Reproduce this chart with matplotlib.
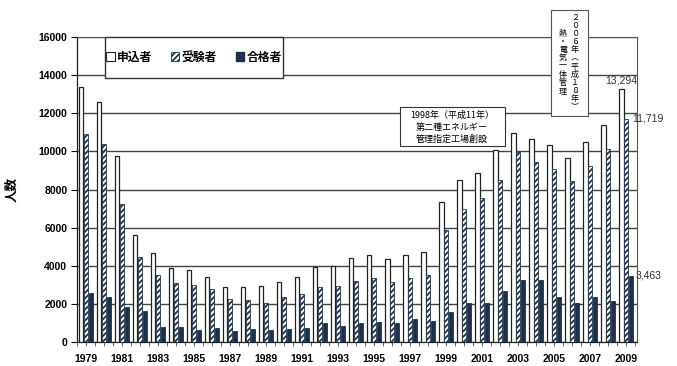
import matplotlib
matplotlib.use("Agg")
import matplotlib.pyplot as plt
from matplotlib.patches import Rectangle, Patch
import numpy as np

years = list(range(1979, 2010))
applicants = [13400, 12600, 9760, 5610, 4650, 3860, 3780, 3430, 2870, 2890,
              2940, 3150, 3430, 3920, 3970, 4420, 4550, 4350, 4550, 4740,
              7330, 8500, 8880, 10050, 10980, 10630, 10320, 9640, 10490, 11370,
              13294]
examinees = [10900, 10370, 7220, 4440, 3500, 3110, 2970, 2760, 2260, 2200,
             2030, 2340, 2520, 2900, 2940, 3200, 3340, 3150, 3340, 3520,
             5900, 6960, 7540, 8500, 9990, 9440, 9090, 8460, 9230, 10100,
             11719]
passed = [2550, 2380, 1850, 1640, 770, 800, 630, 730, 590, 700,
          630, 700, 750, 980, 840, 980, 1030, 980, 1190, 1090,
          1600, 2060, 2060, 2680, 3250, 3250, 2380, 2060, 2380, 2130,
          3463]
series_names = ["申込者", "受験者", "合格者"]
ytick_vals = [0, 2000, 4000, 6000, 8000, 10000, 12000, 14000, 16000]
xtick_years = list(range(1979, 2010, 2))

navy = "#1d324a"
plt.rcParams['hatch.linewidth'] = 1.3
plt.rcParams['font.family'] = ['Liberation Sans', 'Noto Sans CJK JP', 'DejaVu Sans']

fig = plt.figure(figsize=(6.77, 3.66), dpi=100)
ax = fig.add_axes([77/677, 1-342/366, (637-77)/677, (342-37)/366])

x = np.array(years, dtype=float)
w = 0.25
ax.bar(x - 0.27, applicants, width=w, facecolor="white", edgecolor="#222222", linewidth=0.9, zorder=3)
ax.bar(x, examinees, width=w, facecolor="white", edgecolor=navy, hatch="//////", linewidth=0.6, zorder=3)
ax.bar(x + 0.27, passed, width=w, facecolor=navy, edgecolor=navy, linewidth=0.6, zorder=3)

ax.set_xlim(1978.5, 2009.6)
ax.set_ylim(0, 16000)
ax.set_yticks(ytick_vals)
ax.set_yticklabels([str(v) for v in ytick_vals], fontsize=7.5, fontweight="bold")
ax.set_xticks(xtick_years)
ax.set_xticklabels([str(v) for v in xtick_years], fontsize=7.5, fontweight="bold")
ax.set_xticks(np.arange(1978.5, 2009.6, 0.5), minor=True)
ax.tick_params(axis="x", which="major", length=3, width=0.6, color="#555555", pad=6)
ax.tick_params(axis="x", which="minor", length=3, width=0.6, color="#555555")
ax.tick_params(axis="y", which="major", length=4, width=0.8, pad=3)

ax.grid(axis="y", color="#444444", linewidth=1.0, zorder=0)
ax.set_axisbelow(True)
for s in ["left", "bottom"]:
    ax.spines[s].set_color("#222222")
    ax.spines[s].set_linewidth(0.9)
ax.spines["top"].set_color("#555555")
ax.spines["right"].set_color("#555555")

ax.set_ylabel("人数", fontsize=9, fontweight="bold", family=['Noto Sans CJK JP'])
ax.yaxis.set_label_coords((18 - 77) / 560, (342 - 190) / 305)

# data labels
ax.annotate(f"{applicants[-1]:,}", (x[-1] - 0.27, applicants[-1]), xytext=(0, 2),
            textcoords="offset points", ha="center", va="bottom", fontsize=7.5, color="#333333")
ax.annotate(f"{examinees[-1]:,}", (x[-1], examinees[-1]), xytext=(4, 0),
            textcoords="offset points", ha="left", va="center", fontsize=7.5, color="#333333")
ax.annotate(f"{passed[-1]:,}", (x[-1] + 0.27, passed[-1]), xytext=(3, 0),
            textcoords="offset points", ha="left", va="center", fontsize=7.5, color="#333333")

# legend with manual frame
fw, fh = 677, 366
fig.patches.append(Rectangle((105/fw, 1-78/fh), (283-105)/fw, 41/fh, transform=fig.transFigure,
                             facecolor="white", edgecolor="#333333", linewidth=1.0, zorder=5))
handles = [Patch(facecolor="white", edgecolor="#222222", linewidth=0.8),
           Patch(facecolor="white", edgecolor=navy, hatch="//////", linewidth=0.6),
           Patch(facecolor=navy, edgecolor=navy)]
leg = fig.legend(handles, series_names, loc="center", bbox_to_anchor=(194/fw, 1-57/fh),
                 ncol=3, frameon=False, handlelength=0.7, handleheight=0.7, handletextpad=0.2,
                 columnspacing=1.6, prop={'family': ['Noto Sans CJK JP'], 'weight': 'bold', 'size': 8.5})
leg.set_zorder(6)

# annotation 1998
fig.patches.append(Rectangle((400/fw, 1-146/fh), 105/fw, 39/fh, transform=fig.transFigure,
                             facecolor="white", edgecolor="#333333", linewidth=0.8, zorder=5))
for txt, yy in [("1998年（平成11年）", 115), ("第二種エネルギー", 127), ("管理指定工場創設", 139)]:
    fig.text(452/fw, 1-yy/fh, txt, ha="center", va="center", fontsize=6.5,
             family=['Noto Sans CJK JP'], zorder=6)

# annotation 2006 (vertical)
fig.patches.append(Rectangle((551/fw, 1-116/fh), 37/fw, 106/fh, transform=fig.transFigure,
                             facecolor="white", edgecolor="#555555", linewidth=0.8, zorder=5))
col_right = ["２", "０", "０", "６", "年", "︵", "平", "成", "１", "８", "年", "︶"]
col_left = ["熱", "・", "電", "気", "一", "体", "管", "理"]
for i, ch in enumerate(col_right):
    fig.text(575/fw, 1-(17 + i*8.2)/fh, ch, ha="center", va="center", fontsize=5.8,
             family=['Noto Sans CJK JP'], zorder=6)
for i, ch in enumerate(col_left):
    fig.text(563/fw, 1-(33 + i*8.2)/fh, ch, ha="center", va="center", fontsize=5.8,
             family=['Noto Sans CJK JP'], zorder=6)

fig.savefig("out.png", dpi=100)
